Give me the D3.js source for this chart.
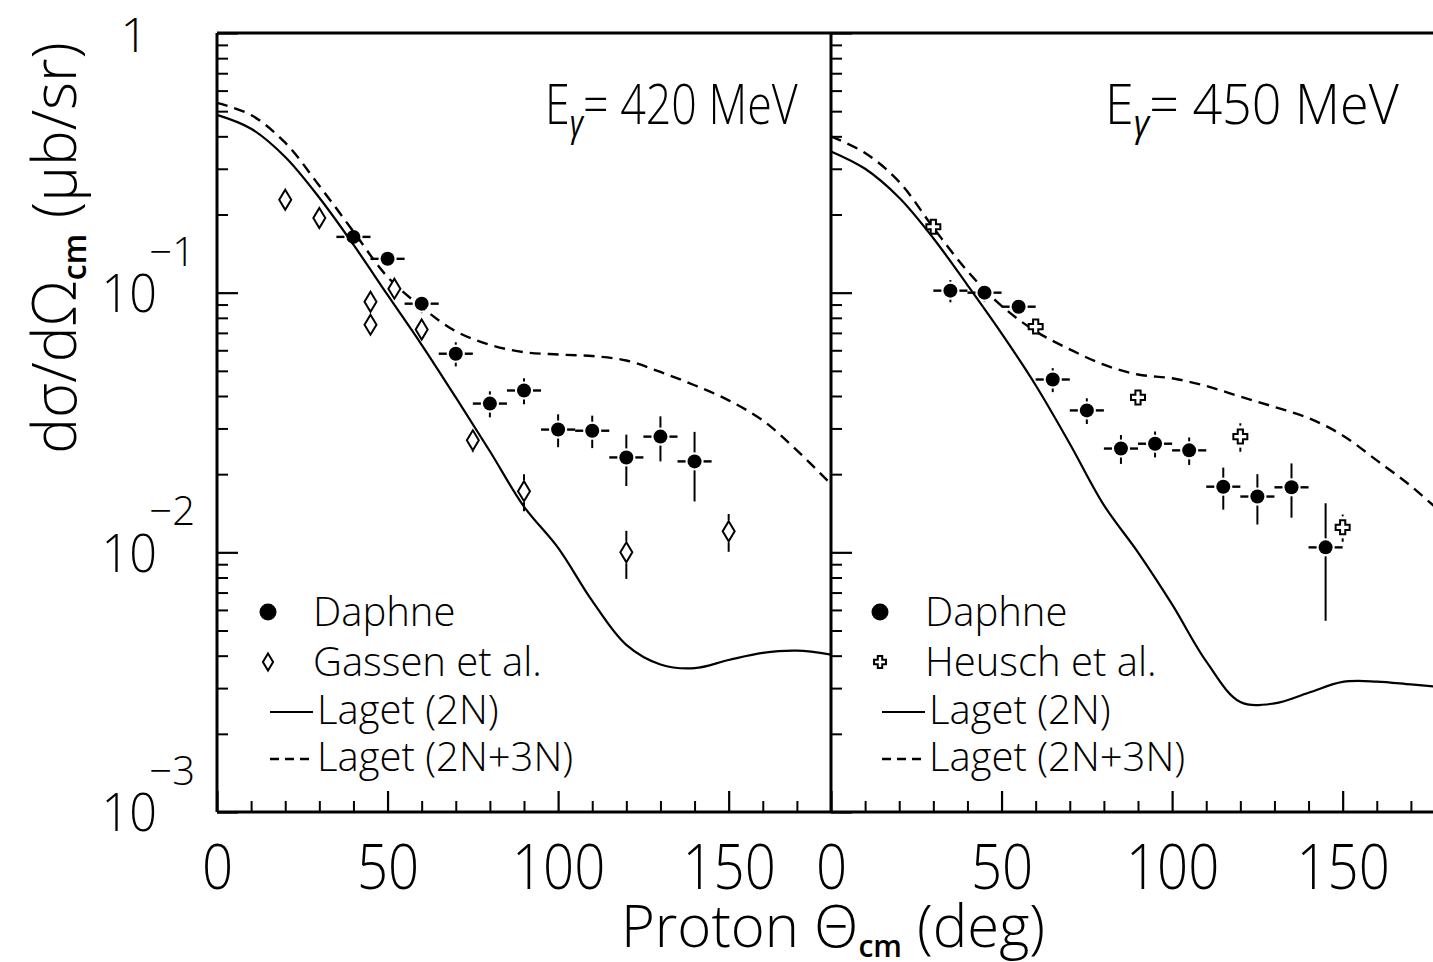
<!DOCTYPE html>
<html>
<head>
<meta charset="utf-8">
<script src="https://cdn.jsdelivr.net/npm/d3@7"></script>
<style>
  body { margin: 0; background: #fff; }
  text { font-family: 'Open Sans', 'Liberation Sans', sans-serif; font-weight: 300; fill: #000; }
</style>
</head>
<body>
<svg id="chart" width="1433" height="962"></svg>
<script>
// ---- data ----
var curveDeg = [0, 10, 20, 30, 40, 50, 60, 70, 80, 90, 100, 110, 120, 130, 140, 150, 160, 170, 180];

// E = 420 MeV
var laget2N420 = [0.484, 0.428, 0.333, 0.232, 0.153, 0.098, 0.063, 0.0395, 0.0245, 0.015, 0.0104, 0.0065, 0.0044, 0.0037, 0.00358, 0.00385, 0.0041, 0.00418, 0.00404];
var laget3N420 = [0.538, 0.483, 0.378, 0.258, 0.172, 0.115, 0.088, 0.071, 0.063, 0.059, 0.0578, 0.057, 0.0548, 0.0495, 0.044, 0.0385, 0.0322, 0.0247, 0.0183];
var daphne420Deg = [40, 50, 60, 70, 80, 90, 100, 110, 120, 130, 140];
var daphne420Val = [0.164, 0.135, 0.0907, 0.0582, 0.0374, 0.042, 0.0297, 0.0294, 0.0232, 0.0279, 0.0224];
var daphne420Err = [0.008, 0.007, 0.0073, 0.0062, 0.0043, 0.0048, 0.0043, 0.0042, 0.0052, 0.0055, 0.0067];
var gassenDeg = [20, 30, 45, 45, 52, 60, 75, 90, 120, 150];
var gassenVal = [0.228, 0.194, 0.0923, 0.0753, 0.1036, 0.0721, 0.027, 0.0172, 0.01, 0.01205];
var gassenErr = [0.005, 0.005, 0.003, 0.003, 0.003, 0.003, 0.0027, 0.0028, 0.0021, 0.002];

// E = 450 MeV
var laget2N450 = [0.35, 0.30, 0.232, 0.162, 0.107, 0.0697, 0.0440, 0.0262, 0.0152, 0.0100, 0.0063, 0.0038, 0.00265, 0.00262, 0.00288, 0.00317, 0.00318, 0.0031, 0.00302];
var laget3N450 = [0.40, 0.345, 0.267, 0.178, 0.121, 0.089, 0.071, 0.0605, 0.0528, 0.0484, 0.0468, 0.0437, 0.0398, 0.0363, 0.0329, 0.0282, 0.0226, 0.018, 0.0138];
var daphne450Deg = [35, 45, 55, 65, 75, 85, 95, 105, 115, 125, 135, 145];
var daphne450Val = [0.1018, 0.1, 0.0883, 0.0463, 0.0352, 0.0251, 0.0262, 0.0247, 0.0179, 0.0164, 0.0178, 0.01045];
var daphne450Err = [0.01, 0.008, 0.004, 0.0049, 0.004, 0.0032, 0.003, 0.003, 0.0033, 0.0036, 0.0042, 0.005];
var heuschDeg = [30, 60, 90, 120, 150];
var heuschVal = [0.1794, 0.074, 0.0395, 0.0279, 0.01248];
var heuschErr = [0.006, 0.003, 0.002, 0.0035, 0.0015];

var xMajor = [0, 50, 100, 150];
var xMinor = [10, 20, 30, 40, 60, 70, 80, 90, 110, 120, 130, 140, 160, 170];
var yDecades = [1, 0.1, 0.01, 0.001];
var yExponents = ["", "\u22121", "\u22122", "\u22123"];

// ---- layout ----
var svg = d3.select("#chart");
var yTop = 33, yBot = 812;
var y = d3.scaleLog().domain([1e-3, 1]).range([yBot, yTop]);
var xL = d3.scaleLinear().domain([0, 180]).range([217, 831]);
var xR = d3.scaleLinear().domain([0, 180]).range([831, 1445]);

var yMinor = [];
[0.001, 0.01, 0.1].forEach(function(d) {
	for (var k = 2; k <= 9; k++) yMinor.push(d * k);
});

function drawPanel(x, opts) {
	var g = svg.append("g");

	// y ticks (pointing inward)
	g.append("g").attr("transform", "translate(" + x(0) + ",0)")
		.call(d3.axisLeft(y).tickValues(yDecades).tickSize(-21).tickFormat(""))
		.call(function(s) { s.select(".domain").remove(); s.selectAll("line").attr("stroke-width", 2.2); });
	g.append("g").attr("transform", "translate(" + x(0) + ",0)")
		.call(d3.axisLeft(y).tickValues(yMinor).tickSize(-11).tickFormat(""))
		.call(function(s) { s.select(".domain").remove(); s.selectAll("line").attr("stroke-width", 2); });

	// x ticks
	g.append("g").attr("transform", "translate(0," + yBot + ")")
		.call(d3.axisBottom(x).tickValues(xMajor).tickSize(-21).tickPadding(34).tickFormat(d3.format("d")))
		.call(function(s) {
			s.select(".domain").remove();
			s.selectAll("line").attr("stroke-width", 2.2);
			s.selectAll("text").attr("font-size", 62).attr("font-family", null).attr("dy", "0.7em")
				.attr("transform", "scale(0.88,1)");
		});
	g.append("g").attr("transform", "translate(0," + yBot + ")")
		.call(d3.axisBottom(x).tickValues(xMinor).tickSize(-11).tickFormat(""))
		.call(function(s) { s.select(".domain").remove(); s.selectAll("line").attr("stroke-width", 2); });

	// model curves
	var line = d3.line()
		.x(function(d, i) { return x(curveDeg[i]); })
		.y(function(d) { return y(d); })
		.curve(d3.curveCatmullRom.alpha(0.5));
	g.append("path").datum(opts.l2n).attr("d", line)
		.attr("fill", "none").attr("stroke", "#000").attr("stroke-width", 2.2);
	g.append("path").datum(opts.l3n).attr("d", line)
		.attr("fill", "none").attr("stroke", "#000").attr("stroke-width", 2.4).attr("stroke-dasharray", "11,7");

	// open data set (diamonds or crosses)
	drawPoints(g, x, opts.openDeg, opts.openVal, opts.openErr, opts.openShape, 0, 9);
	// Daphne
	drawPoints(g, x, opts.dDeg, opts.dVal, opts.dErr, "circle", 5, 7);

	// title
	var t = g.append("text").attr("transform", "translate(" + opts.titleX + ",124) scale(" + opts.titleScale + ",1)").attr("font-size", 56);
	t.append("tspan").text("E");
	t.append("tspan").attr("font-size", 36).attr("dy", 12).attr("font-style", "italic").attr("font-weight", 400).text("\u03b3");
	t.append("tspan").attr("dy", -12).text("= " + opts.energy + " MeV");

	// legend
	var lx = opts.legendX, tx = lx + 45;
	var rows = [612, 662, 710, 757];
	g.append("circle").attr("cx", lx).attr("cy", rows[0]).attr("r", 8.5);
	shape(g, opts.openShape, lx, rows[1], 0.85);
	g.append("line").attr("x1", lx + 2).attr("x2", lx + 45).attr("y1", rows[2] + 2).attr("y2", rows[2] + 2)
		.attr("stroke", "#000").attr("stroke-width", 2.2);
	g.append("line").attr("x1", lx + 2).attr("x2", lx + 45).attr("y1", rows[3] + 2).attr("y2", rows[3] + 2)
		.attr("stroke", "#000").attr("stroke-width", 2.4).attr("stroke-dasharray", "9,6");
	var labels = ["Daphne", opts.openLabel, "Laget (2N)", "Laget (2N+3N)"];
	labels.forEach(function(s, i) {
		g.append("text").attr("x", i < 2 ? tx : tx + 4).attr("y", rows[i] + 14).attr("font-size", 40).text(s);
	});
}

function shape(g, type, cx, cy, scale) {
	if (type == "diamond") {
		var w = 6 * scale, h = 10 * scale;
		g.append("path").attr("d", "M" + cx + "," + (cy - h) + "L" + (cx + w) + "," + cy + "L" + cx + "," + (cy + h) + "L" + (cx - w) + "," + cy + "Z")
			.attr("fill", "#fff").attr("stroke", "#000").attr("stroke-width", 2);
	} else if (type == "cross") {
		var a = 7 * scale, b = 2.6 * scale;
		var p = [[-b, -a], [b, -a], [b, -b], [a, -b], [a, b], [b, b], [b, a], [-b, a], [-b, b], [-a, b], [-a, -b], [-b, -b]];
		g.append("path").attr("d", "M" + p.map(function(q) { return (cx + q[0]) + "," + (cy + q[1]); }).join("L") + "Z")
			.attr("fill", "#fff").attr("stroke", "#000").attr("stroke-width", 2);
	} else {
		g.append("circle").attr("cx", cx).attr("cy", cy).attr("r", 7 * scale).attr("fill", "#000");
	}
}

function drawPoints(g, x, degs, vals, errs, type, xErr, halfH) {
	var gap = 2;
	degs.forEach(function(d, i) {
		var px = x(d), py = y(vals[i]);
		var yUp = y(vals[i] + errs[i]), yDn = y(vals[i] - errs[i]);
		var hw = type == "circle" ? 7 : halfH;
		if (py - yUp > hw + gap)
			g.append("line").attr("x1", px).attr("x2", px).attr("y1", yUp).attr("y2", py - hw - gap)
				.attr("stroke", "#000").attr("stroke-width", 2);
		if (yDn - py > hw + gap)
			g.append("line").attr("x1", px).attr("x2", px).attr("y1", py + hw + gap).attr("y2", yDn)
				.attr("stroke", "#000").attr("stroke-width", 2);
		if (xErr > 0) {
			g.append("line").attr("x1", x(d - xErr)).attr("x2", px - 7 - gap).attr("y1", py).attr("y2", py)
				.attr("stroke", "#000").attr("stroke-width", 2.4);
			g.append("line").attr("x1", px + 7 + gap).attr("x2", x(d + xErr)).attr("y1", py).attr("y2", py)
				.attr("stroke", "#000").attr("stroke-width", 2.4);
		}
		shape(g, type, px, py, 1);
	});
}

drawPanel(xL, {
	l2n: laget2N420, l3n: laget3N420,
	dDeg: daphne420Deg, dVal: daphne420Val, dErr: daphne420Err,
	openDeg: gassenDeg, openVal: gassenVal, openErr: gassenErr, openShape: "diamond",
	openLabel: "Gassen et al.", energy: "420", titleX: 545, titleScale: 0.8, legendX: 268
});
drawPanel(xR, {
	l2n: laget2N450, l3n: laget3N450,
	dDeg: daphne450Deg, dVal: daphne450Val, dErr: daphne450Err,
	openDeg: heuschDeg, openVal: heuschVal, openErr: heuschErr, openShape: "cross",
	openLabel: "Heusch et al.", energy: "450", titleX: 1105, titleScale: 0.93, legendX: 880
});

// frame
var frame = svg.append("g").attr("stroke", "#000").attr("stroke-width", 3).attr("fill", "none");
frame.append("line").attr("x1", xL(0)).attr("x2", xR(180)).attr("y1", yTop).attr("y2", yTop);
frame.append("line").attr("x1", xL(0)).attr("x2", xR(180)).attr("y1", yBot).attr("y2", yBot);
frame.append("line").attr("x1", xL(0)).attr("x2", xL(0)).attr("y1", yTop).attr("y2", yBot);
frame.append("line").attr("x1", xL(180)).attr("x2", xL(180)).attr("y1", yTop).attr("y2", yBot);

// y tick labels
yDecades.forEach(function(d, i) {
	if (i == 0) {
		svg.append("text").attr("x", 148).attr("y", y(d) + 2).attr("dy", "0.36em")
			.attr("text-anchor", "end").attr("font-size", 48).text("1");
		return;
	}
	svg.append("text").attr("transform", "translate(157," + y(d) + ") scale(0.9,1)").attr("dy", "0.36em")
		.attr("text-anchor", "end").attr("font-size", 54).text("10");
	svg.append("text").attr("x", 195).attr("y", y(d) - 27)
		.attr("text-anchor", "end").attr("font-size", 40).text(yExponents[i]);
});

// axis titles
var xt = svg.append("text").attr("x", 833).attr("y", 947).attr("text-anchor", "middle").attr("font-size", 58);
xt.append("tspan").text("Proton \u0398");
xt.append("tspan").attr("font-size", 30).attr("dy", 10).attr("font-weight", 600).text("cm");
xt.append("tspan").attr("dy", -10).text(" (deg)");

var yt = svg.append("text").attr("transform", "translate(76,248) rotate(-90)")
	.attr("text-anchor", "middle").attr("font-size", 60);
yt.append("tspan").text("d\u03c3/d\u03a9");
yt.append("tspan").attr("font-size", 32).attr("dy", 10).attr("font-weight", 600).text("cm");
yt.append("tspan").attr("dy", -10).text(" (\u03bcb/sr)");
</script>
</body>
</html>
